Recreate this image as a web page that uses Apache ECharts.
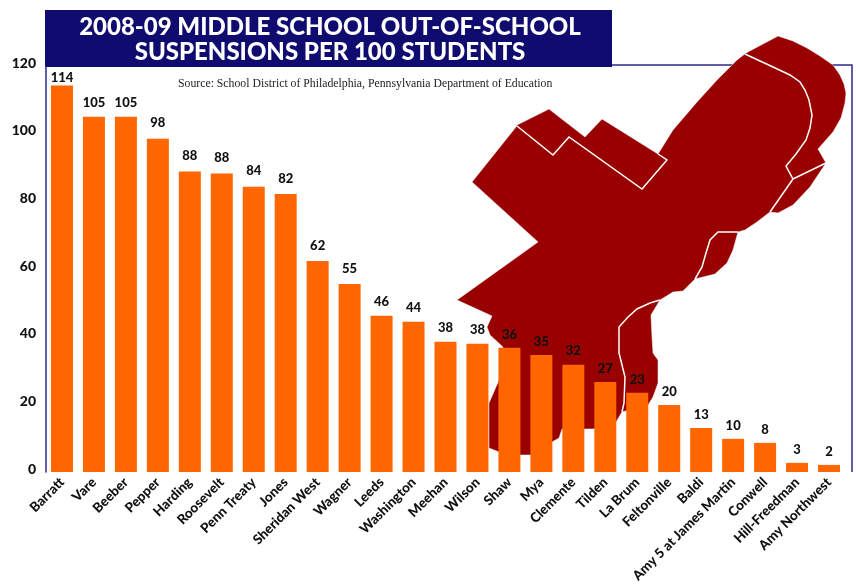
<!DOCTYPE html>
<html>
<head>
<meta charset="utf-8">
<style>
  html, body { margin: 0; padding: 0; background: #fff; }
  #chart { width: 856px; height: 584px; }
</style>
<script src="https://cdn.jsdelivr.net/npm/echarts@6/dist/echarts.min.js"></script>
</head>
<body>
<div id="chart"></div>
<script>
var schools = ["Barratt", "Vare", "Beeber", "Pepper", "Harding", "Roosevelt", "Penn Treaty", "Jones",
  "Sheridan West", "Wagner", "Leeds", "Washington", "Meehan", "Wilson", "Shaw", "Mya", "Clemente",
  "Tilden", "La Brum", "Feltonville", "Baldi", "Amy 5 at James Martin", "Conwell", "Hill-Freedman", "Amy Northwest"];
// bar heights as measured, printed labels are the rounded figures from the original
var suspensions = [114.2, 105, 105, 98.5, 88.8, 88.2, 84.3, 82.2, 62.4, 55.6, 46.2, 44.4, 38.5, 37.9, 36.7,
  34.6, 31.7, 26.6, 23.4, 19.8, 13, 9.8, 8.6, 2.7, 2.1];
var printedLabels = [114, 105, 105, 98, 88, 88, 84, 82, 62, 55, 46, 44, 38, 38, 36, 35, 32, 27, 23, 20, 13, 10, 8, 3, 2];

var titleText = "2008-09 MIDDLE SCHOOL OUT-OF-SCHOOL\nSUSPENSIONS PER 100 STUDENTS";
var sourceText = "Source: School District of Philadelphia, Pennsylvania Department of Education";

// backdrop map of the city, decoration only
var mapOutline = [[778,36],[746,53],[737,60],[717,80],[697,102],[673,130],[658,154],[602,119],[585,137],[549,109],
  [517,125],[516,127],[472,182],[538,242],[457,300],[492,316],[487,327],[490,335],[503,347],[499,380],[489,403],
  [489,448],[499,452],[520,455],[530,455],[552,442],[559,438],[562,429],[593,429],[616,422],[622,412],[648,405],
  [653,397],[658,383],[658,360],[653,353],[652,337],[651,315],[660,300],[673,292],[683,291],[695,279],[715,274],
  [727,263],[733,250],[738,232],[745,230],[757,222],[770,212],[778,213],[793,205],[810,187],[826,163],[818,149],
  [833,132],[841,118],[845,103],[846,93],[844,84],[840,75],[833,65],[820,56],[807,48],[793,41]];
var mapBorders = [
  [[517,126],[553,155],[569,137],[642,189],[667,160],[658,154]],
  [[745,54],[773,67],[790,75],[800,82],[805,90],[809,100],[812,115],[810,128],[806,140],[796,154],[786,166],[793,179],[826,163]],
  [[793,179],[770,212]],
  [[738,232],[718,232],[710,240],[706,253],[702,267],[695,279]],
  [[660,300],[650,303],[637,309],[628,317],[619,327],[619,353],[625,377],[624,403],[622,412]]
];

var chart = echarts.init(document.getElementById("chart"));

var graphics = [
  { type: "polyline", z: -5, shape: { points: [[612,65],[852,65],[852,472]] },
    style: { stroke: "#2e2a86", lineWidth: 1.5, fill: null } },
  { type: "polygon", z: -4, shape: { points: mapOutline }, style: { fill: "#990000", stroke: "#fff", lineWidth: 0.5 } },
  { type: "rect", z: -3, shape: { x: 45, y: 10, width: 567, height: 57 }, style: { fill: "#100b6e" } },
  { type: "text", z: 5, x: 178, y: 84, style: { text: sourceText, fill: "#222",
      font: "11.75px 'Liberation Serif'", textVerticalAlign: "middle" } }
];
mapBorders.forEach(function (pts) {
  graphics.push({ type: "polyline", z: -4, shape: { points: pts },
    style: { stroke: "#fff", lineWidth: 1.5, fill: null } });
});

// the printed figures sit at uneven heights above their bars
function labelGap(i) {
  if (i === 0) return 1;
  if (i >= 3 && i <= 9) return 9;
  return 7;
}

chart.setOption({
  animation: false,
  title: {
    text: titleText,
    left: 325,
    top: 10,
    textAlign: "center",
    textStyle: { color: "#fff", fontFamily: "Lato", fontWeight: 900, fontSize: 24, lineHeight: 25 }
  },
  grid: { left: 46, right: 11, top: 66, bottom: 112, outerBoundsMode: "none" },
  graphic: graphics,
  xAxis: {
    type: "category",
    data: schools,
    axisLine: { show: false },
    axisTick: { show: false },
    axisLabel: {
      interval: 0,
      rotate: 45,
      margin: 8,
      color: "#111",
      fontFamily: "Lato",
      fontWeight: 900,
      fontSize: 13.5
    }
  },
  yAxis: {
    type: "value",
    min: 0,
    max: 120,
    interval: 20,
    splitLine: { show: false },
    axisTick: { show: false },
    axisLine: { show: true, lineStyle: { color: "#2e2a86", width: 1.5 } },
    axisLabel: {
      margin: 10,
      color: "#111",
      fontFamily: "Lato",
      fontWeight: 900,
      fontSize: 14,
      verticalAlign: "bottom",
      lineHeight: 6
    }
  },
  series: [
    {
      type: "bar",
      data: suspensions.map(function (v, i) {
        return { value: v, label: { distance: labelGap(i) } };
      }),
      barWidth: 22,
      itemStyle: { color: "#ff6600" },
      label: {
        show: true,
        position: "top",
        color: "#111",
        fontFamily: "Lato",
        fontWeight: 900,
        fontSize: 13,
        formatter: function (p) { return printedLabels[p.dataIndex]; }
      }
    }
  ]
});
</script>
</body>
</html>
